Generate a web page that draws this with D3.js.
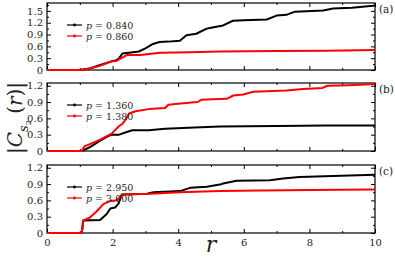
<!DOCTYPE html>
<html>
<head>
<meta charset="utf-8">
<script src="https://cdn.jsdelivr.net/npm/d3@7"></script>
<style>
  body { margin: 0; background: #fff; }
  svg { display: block; }
  svg text { font-family: "DejaVu Serif", "Liberation Serif", serif; }
</style>
</head>
<body>
<div id="chart"></div>
<script>
// Data: [r, |C(r)|]
const aBlack = [[0,0],[1.0,0],[1.3,0.04],[1.6,0.12],[1.82,0.18],[1.97,0.22],[2.12,0.25],[2.2,0.3],[2.3,0.42],[2.5,0.44],[2.8,0.47],[3.0,0.55],[3.23,0.66],[3.43,0.71],[3.7,0.72],[4.05,0.74],[4.25,0.88],[4.55,0.92],[4.87,1.05],[5.0,1.07],[5.37,1.13],[5.67,1.25],[6.0,1.26],[6.7,1.28],[7.0,1.38],[7.3,1.40],[7.56,1.48],[8.42,1.51],[8.72,1.56],[9.3,1.58],[9.94,1.63],[10,1.64]];
const aRed = [[0,0],[1.0,0],[1.2,0.02],[1.51,0.08],[1.82,0.17],[1.97,0.22],[2.12,0.23],[2.27,0.3],[2.43,0.38],[2.84,0.38],[3.25,0.42],[3.45,0.44],[4.36,0.45],[5.27,0.47],[7.0,0.48],[8.5,0.49],[10,0.51]];
const bBlack = [[0,0],[1.06,0],[1.31,0.07],[1.62,0.19],[1.82,0.26],[1.97,0.30],[2.2,0.30],[2.43,0.35],[2.6,0.38],[3.1,0.38],[3.6,0.41],[4.5,0.43],[5.27,0.45],[7.0,0.46],[8.5,0.47],[10,0.47]];
const bRed = [[0,0],[1.06,0],[1.15,0.09],[1.2,0.10],[1.62,0.21],[1.97,0.32],[2.2,0.46],[2.3,0.50],[2.4,0.58],[2.5,0.69],[2.7,0.73],[3.1,0.77],[3.6,0.79],[3.7,0.85],[4.0,0.87],[4.4,0.89],[4.6,0.90],[4.7,0.94],[5.48,0.96],[5.68,1.02],[5.98,1.04],[6.29,1.09],[7.3,1.11],[7.8,1.14],[8.4,1.16],[8.55,1.20],[9.2,1.21],[10,1.23]];
const cBlack = [[0,0],[1.06,0],[1.11,0.23],[1.62,0.24],[1.82,0.35],[1.93,0.45],[2.08,0.47],[2.18,0.54],[2.28,0.71],[3.05,0.72],[3.25,0.75],[4.06,0.77],[4.36,0.83],[4.87,0.85],[5.27,0.89],[5.37,0.91],[5.78,0.96],[6.8,0.97],[7.2,1.0],[7.7,1.03],[8.72,1.05],[10,1.07]];
const cRed = [[0,0],[1.06,0],[1.1,0.23],[1.3,0.28],[1.5,0.39],[1.72,0.53],[1.93,0.59],[2.13,0.60],[2.23,0.67],[2.33,0.71],[3.15,0.72],[4.06,0.75],[5.27,0.77],[6.5,0.78],[8.0,0.79],[10,0.80]];

const panelTags = ["(a)", "(b)", "(c)"];
const legendLabels = [["0.840", "0.860"], ["1.360", "1.380"], ["2.950", "3.000"]];
const yMaxes = [1.7, 1.25, 1.25];
const yTicks = [[0, 0.3, 0.6, 0.9, 1.2, 1.5], [0, 0.3, 0.6, 0.9, 1.2], [0, 0.3, 0.6, 0.9, 1.2]];
const xTicks = [0, 2, 4, 6, 8, 10];
const seriesData = [[aBlack, aRed], [bBlack, bRed], [cBlack, cRed]];
const colors = ["#000000", "#ff0000"];

const W = 395, H = 259;
const left = 47, right = 375;
const panelTops = [3, 83, 165];
const panelBottoms = [70, 151, 233];

const svg = d3.select("#chart").append("svg")
  .attr("width", W).attr("height", H);

const x = d3.scaleLinear().domain([0, 10]).range([left, right]);
const fmt = d => d === 0 ? "0" : d3.format(".1f")(d);

panelTags.forEach((tag, i) => {
  const y = d3.scaleLinear().domain([0, yMaxes[i]]).range([panelBottoms[i], panelTops[i]]);
  const g = svg.append("g");

  // minor ticks
  const yMinor = d3.range(0.15, yMaxes[i], 0.3);
  const xMinor = d3.range(1, 10, 2);

  // left axis
  g.append("g").attr("transform", `translate(${left},0)`)
    .call(d3.axisLeft(y).tickValues(yTicks[i]).tickFormat(fmt).tickSizeInner(-4).tickSizeOuter(0).tickPadding(4));
  g.append("g").attr("transform", `translate(${left},0)`)
    .call(d3.axisLeft(y).tickValues(yMinor).tickFormat("").tickSizeInner(-2).tickSizeOuter(0));
  // right axis
  g.append("g").attr("transform", `translate(${right},0)`)
    .call(d3.axisRight(y).tickValues(yTicks[i]).tickFormat("").tickSizeInner(-4).tickSizeOuter(0));
  g.append("g").attr("transform", `translate(${right},0)`)
    .call(d3.axisRight(y).tickValues(yMinor).tickFormat("").tickSizeInner(-2).tickSizeOuter(0));
  // bottom axis
  g.append("g").attr("transform", `translate(0,${panelBottoms[i]})`)
    .call(d3.axisBottom(x).tickValues(xTicks).tickFormat(i === 2 ? d3.format("d") : "").tickSizeInner(-4).tickSizeOuter(0).tickPadding(6));
  g.append("g").attr("transform", `translate(0,${panelBottoms[i]})`)
    .call(d3.axisBottom(x).tickValues(xMinor).tickFormat("").tickSizeInner(-2).tickSizeOuter(0));
  // top axis
  g.append("g").attr("transform", `translate(0,${panelTops[i]})`)
    .call(d3.axisTop(x).tickValues(xTicks).tickFormat("").tickSizeInner(-4).tickSizeOuter(0));
  g.append("g").attr("transform", `translate(0,${panelTops[i]})`)
    .call(d3.axisTop(x).tickValues(xMinor).tickFormat("").tickSizeInner(-2).tickSizeOuter(0));

  g.selectAll(".domain").remove();
  g.selectAll(".tick text").attr("font-size", 10).attr("fill", "#222");
  g.selectAll(".tick line").attr("stroke", "#000");

  // frame
  g.append("rect")
    .attr("x", left).attr("y", panelTops[i])
    .attr("width", right - left).attr("height", panelBottoms[i] - panelTops[i])
    .attr("fill", "none").attr("stroke", "#000").attr("stroke-width", 1.2);

  // curves
  const line = d3.line().x(d => x(d[0])).y(d => y(d[1]));
  seriesData[i].forEach((s, k) => {
    g.append("path").datum(s)
      .attr("d", line)
      .attr("fill", "none")
      .attr("stroke", colors[k])
      .attr("stroke-width", 2)
      .attr("stroke-linejoin", "round");
  });

  // legend
  legendLabels[i].forEach((lab, k) => {
    const ly = panelTops[i] + 22 + k * 11;
    g.append("line").attr("x1", 67).attr("x2", 82).attr("y1", ly).attr("y2", ly)
      .attr("stroke", colors[k]).attr("stroke-width", 1.2);
    g.append("circle").attr("cx", 74.5).attr("cy", ly).attr("r", 1.4).attr("fill", colors[k]);
    const t = g.append("text").attr("x", 86).attr("y", ly + 3.5)
      .attr("font-size", 9.5).attr("fill", "#222");
    t.append("tspan").attr("font-style", "italic").text("p");
    t.append("tspan").text(" = " + lab);
  });

  // panel tag
  svg.append("text").attr("x", 379).attr("y", panelTops[i] + 10)
    .attr("font-size", 10.5).attr("fill", "#222").text(tag);
});

// y label
const yl = svg.append("text")
  .attr("transform", "translate(22,118) rotate(-90)")
  .attr("text-anchor", "middle")
  .attr("font-size", 20).attr("fill", "#222");
yl.append("tspan").text("|");
yl.append("tspan").attr("font-style", "italic").text("C");
yl.append("tspan").attr("font-style", "italic").attr("font-size", 13).attr("dy", 6).text("s");
yl.append("tspan").attr("font-size", 8).attr("dy", 3).text("2");
yl.append("tspan").attr("dy", -9).text(" (");
yl.append("tspan").attr("font-style", "italic").text("r");
yl.append("tspan").text(")|");

// x label
svg.append("text").attr("x", 211).attr("y", 252)
  .attr("text-anchor", "middle").attr("font-size", 22)
  .attr("font-style", "italic").attr("fill", "#222").text("r");
</script>
</body>
</html>
